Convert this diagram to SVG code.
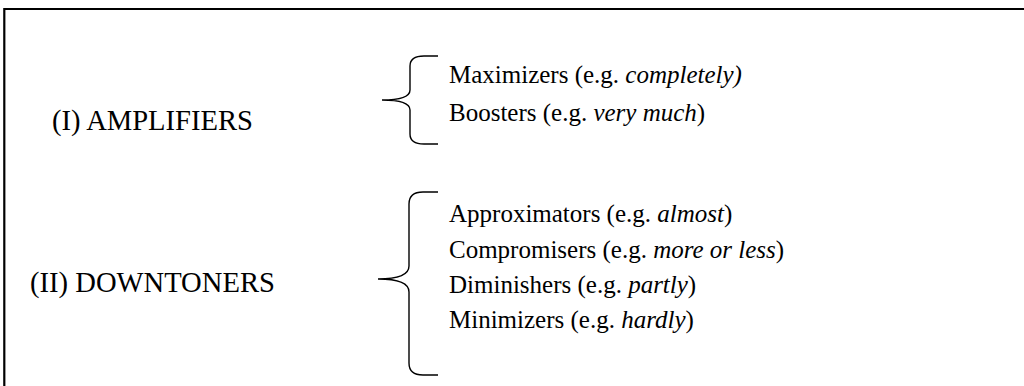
<svg xmlns="http://www.w3.org/2000/svg" width="1024" height="386" viewBox="0 0 1024 386">
  <style>
    text { font-family: 'Liberation Serif', 'Times New Roman', Times, serif; font-size: 25px; fill: #000; }
    .i { font-style: italic; }
    .big { font-size: 28.6px; }
    .brace { fill: none; stroke: #000; stroke-width: 1.4; }
    .frame { fill: none; stroke: #000; stroke-width: 2.2; }
  </style>
  <rect width="1024" height="386" fill="#fff"/>

  <!-- open frame: top and left edges -->
  <path class="frame" d="M4.3,390 V9 H1030"/>

  <g id="connectors">
    <!-- brace grouping the amplifier subtypes -->
    <path id="brace-amplifiers" class="brace" d="M438,56 H424 Q410,56 410,66 V90 Q410,100 382,100 Q410,100 410,110 V134 Q410,144 424,144 H438"/>
    <!-- brace grouping the downtoner subtypes -->
    <path id="brace-downtoners" class="brace" d="M438,192 H423 Q409,192 409,204 V266 Q409,279 378,279 Q409,279 409,292 V363 Q409,375 423,375 H438"/>
  </g>

  <g id="amplifiers">
    <text class="big" x="52" y="130">(I) AMPLIFIERS</text>
  </g>
  <g id="maximizers">
    <text x="449" y="83">Maximizers (e.g. <tspan class="i">completely)</tspan></text>
  </g>
  <g id="boosters">
    <text x="449" y="121">Boosters (e.g. <tspan class="i">very much</tspan>)</text>
  </g>

  <g id="downtoners">
    <text class="big" x="30" y="292">(II) DOWNTONERS</text>
  </g>
  <g id="approximators">
    <text x="449" y="222">Approximators (e.g. <tspan class="i">almost</tspan>)</text>
  </g>
  <g id="compromisers">
    <text x="449" y="258">Compromisers (e.g. <tspan class="i">more or less</tspan>)</text>
  </g>
  <g id="diminishers">
    <text x="449" y="293">Diminishers (e.g. <tspan class="i">partly</tspan>)</text>
  </g>
  <g id="minimizers">
    <text x="449" y="328">Minimizers (e.g. <tspan class="i">hardly</tspan>)</text>
  </g>
</svg>
